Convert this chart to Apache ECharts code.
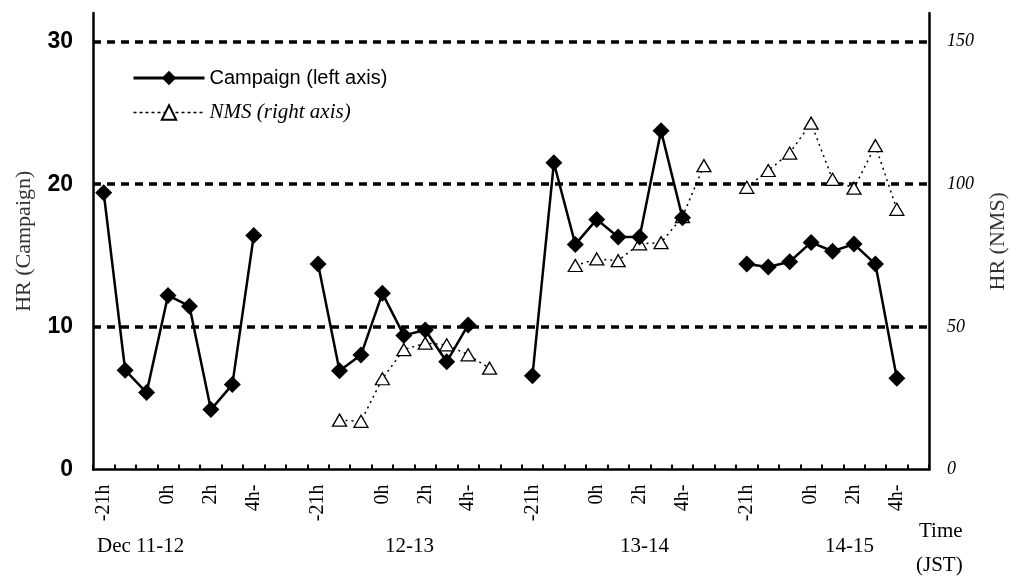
<!DOCTYPE html>
<html>
<head>
<meta charset="utf-8">
<script src="https://cdn.jsdelivr.net/npm/echarts@6/dist/echarts.min.js"></script>
<style>
html,body{margin:0;padding:0;background:#fff;}
#c{width:1011px;height:579px;}
</style>
</head>
<body>
<div id="c"></div>
<script>
// ---- data ----
var categories = [
  '-21h','','','0h','','2h','','4h-','','',
  '-21h','','','0h','','2h','','4h-','','',
  '-21h','','','0h','','2h','','4h-','','',
  '-21h','','','0h','','2h','','4h-',''
];
var campaign = [
  19.4, 6.96, 5.39, 12.2, 11.45, 4.2, 5.95, 16.4, null, null,
  14.4, 6.92, 8.02, 12.35, 9.4, 9.78, 7.55, 10.13, null, null,
  6.57, 21.5, 15.78, 17.53, 16.3, 16.3, 23.74, 17.65, null, null,
  14.4, 14.2, 14.56, 15.92, 15.3, 15.8, 14.4, 6.39, null
];
var nms = [
  null, null, null, null, null, null, null, null, null, null,
  null, 17.3, 16.9, 31.8, 42.0, 44.3, 43.7, 40.2, 35.5, null,
  null, null, 71.5, 73.8, 73.2, 79.1, 79.5, 88.6, 106.5, null,
  98.9, 104.8, 110.9, 121.4, 101.7, 98.6, 113.5, 91.2, null
];
var leftGridValues = [10, 20, 30];
var dayLabels = ['Dec 11-12', '12-13', '13-14', '14-15'];
var seriesNames = ['Campaign (left axis)', 'NMS (right axis)'];

var SERIF = '"Liberation Serif", "Times New Roman", serif';
var SANS = '"Liberation Sans", Arial, sans-serif';

var chart = echarts.init(document.getElementById('c'), null, {renderer: 'canvas'});

var dayTextStyle = {font: '21px ' + SERIF, fill: '#000'};

chart.setOption({
  animation: false,
  backgroundColor: '#fff',
  grid: {left: 93, right: 82, top: 13, bottom: 109.5, containLabel: false, outerBoundsMode: 'none'},
  legend: {
    orient: 'vertical',
    left: 127,
    top: 63,
    itemWidth: 71,
    itemHeight: 18,
    itemGap: 14,
    selectedMode: false,
    data: [
      {name: seriesNames[0], lineStyle: {width: 3, color: '#000'},
       textStyle: {fontFamily: SANS, fontSize: 20, color: '#000', lineHeight: 18}},
      {name: seriesNames[1], lineStyle: {width: 1.5, color: '#000', type: [3, 3]},
       textStyle: {fontFamily: SERIF, fontStyle: 'italic', fontSize: 21, color: '#000', lineHeight: 18}}
    ]
  },
  xAxis: {
    type: 'category',
    data: categories,
    boundaryGap: true,
    axisLine: {show: true, lineStyle: {color: '#000', width: 2.5}},
    axisTick: {show: true, inside: true, length: 5, interval: 0, lineStyle: {color: '#000', width: 2}},
    axisLabel: {interval: 0, rotate: 90, margin: 15, fontFamily: SERIF, fontSize: 20, color: '#000'},
    splitLine: {show: false}
  },
  yAxis: [
    {
      type: 'value', min: 0, max: 32, interval: 10, position: 'left',
      name: 'HR (Campaign)', nameLocation: 'middle', nameGap: 58, nameRotate: 90,
      nameTextStyle: {fontFamily: SERIF, fontSize: 22, color: '#333'},
      axisLine: {show: true, lineStyle: {color: '#000', width: 2.5}},
      axisTick: {show: false},
      axisLabel: {
        margin: 20, fontFamily: SANS, fontWeight: 'bold', fontSize: 23, color: '#000',
        formatter: function (v) { return v % 10 === 0 ? String(v) : ''; }
      },
      splitLine: {show: false}
    },
    {
      type: 'value', min: 0, max: 160, interval: 50, position: 'right',
      name: 'HR (NMS)', nameLocation: 'middle', nameGap: 58, nameRotate: 90,
      nameTextStyle: {fontFamily: SERIF, fontSize: 22, color: '#333'},
      axisLine: {show: true, lineStyle: {color: '#000', width: 2.5}},
      axisTick: {show: false},
      axisLabel: {
        margin: 18, fontFamily: SERIF, fontStyle: 'italic', fontSize: 18, color: '#000',
        formatter: function (v) { return v % 50 === 0 ? String(v) : ''; }
      },
      splitLine: {show: false}
    }
  ],
  series: [
    {
      name: seriesNames[1],
      type: 'line',
      yAxisIndex: 1,
      data: nms,
      connectNulls: false,
      symbol: 'triangle',
      symbolSize: [14, 12],
      showAllSymbol: true,
      z: 2,
      lineStyle: {color: '#000', width: 1.5, type: [2, 4]},
      itemStyle: {color: '#fff', borderColor: '#000', borderWidth: 1.3}
    },
    {
      name: seriesNames[0],
      type: 'line',
      yAxisIndex: 0,
      data: campaign,
      connectNulls: false,
      symbol: 'diamond',
      symbolSize: 17,
      showAllSymbol: true,
      z: 3,
      lineStyle: {color: '#000', width: 2.5},
      itemStyle: {color: '#000', borderColor: '#000', borderWidth: 0},
      markLine: {
        silent: true,
        symbol: 'none',
        label: {show: false},
        lineStyle: {color: '#000', width: 3.5, type: [8, 6]},
        z: 1,
        data: leftGridValues.map(function (v) { return {yAxis: v}; })
      }
    }
  ],
  graphic: [
    {type: 'text', left: 97, top: 536, style: Object.assign({text: dayLabels[0]}, dayTextStyle)},
    {type: 'text', left: 385, top: 536, style: Object.assign({text: dayLabels[1]}, dayTextStyle)},
    {type: 'text', left: 620, top: 536, style: Object.assign({text: dayLabels[2]}, dayTextStyle)},
    {type: 'text', left: 825, top: 536, style: Object.assign({text: dayLabels[3]}, dayTextStyle)},
    {type: 'text', left: 919, top: 521, style: Object.assign({text: 'Time'}, dayTextStyle)},
    {type: 'text', left: 916, top: 555, style: Object.assign({text: '(JST)'}, dayTextStyle)}
  ]
});
</script>
</body>
</html>
